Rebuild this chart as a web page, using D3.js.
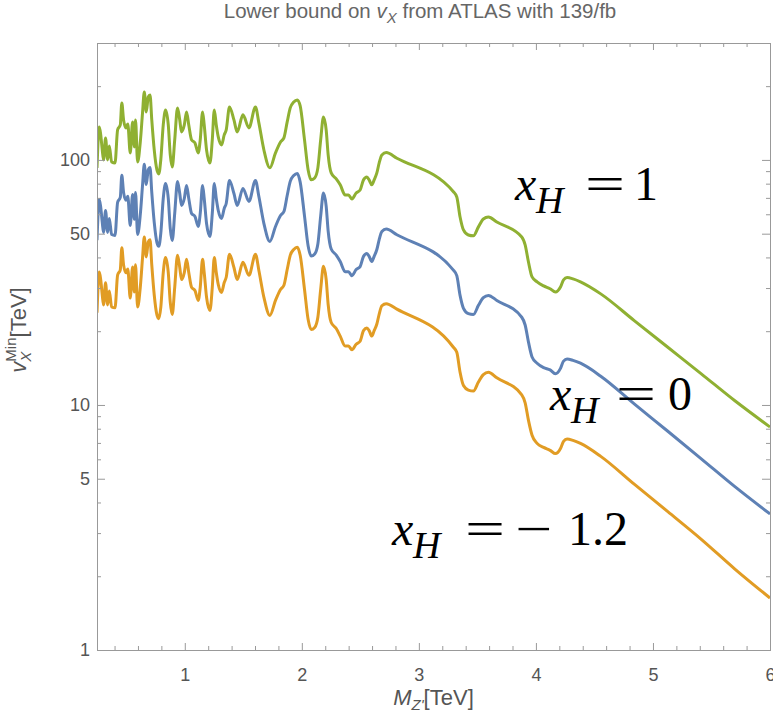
<!DOCTYPE html>
<html>
<head>
<meta charset="utf-8">
<script src="https://cdn.jsdelivr.net/npm/d3@7"></script>
<style>
  body { margin: 0; background: #fff; }
  svg { display: block; }
  text { font-family: "Liberation Sans", Arial, sans-serif; }
  .anno text { font-family: "Liberation Serif", "Times New Roman", serif; font-size: 48px; fill: #000; }
</style>
</head>
<body>
<div id="chart"></div>
<script>
// Z' mass in TeV (shared by all three curves)
var mass = [
  0.250, 0.270, 0.282, 0.295, 0.306, 0.323, 0.341, 0.355, 0.375, 0.404,
  0.426, 0.449, 0.462, 0.477, 0.498, 0.513, 0.534, 0.554, 0.569, 0.579,
  0.597, 0.620, 0.639, 0.654, 0.671, 0.688, 0.703, 0.718, 0.739, 0.762,
  0.778, 0.795, 0.816, 0.836, 0.859, 0.876, 0.893, 0.914, 0.938, 0.957,
  0.972, 0.996, 1.015, 1.034, 1.058, 1.087, 1.115, 1.132, 1.152, 1.166,
  1.186, 1.215, 1.235, 1.252, 1.269, 1.286, 1.314, 1.337, 1.354, 1.382,
  1.420, 1.448, 1.497, 1.548, 1.604, 1.633, 1.676, 1.727, 1.775, 1.818,
  1.847, 1.875, 1.901, 1.931, 1.961, 1.986, 2.023, 2.054, 2.080, 2.110,
  2.137, 2.161, 2.185, 2.208, 2.225, 2.251, 2.294, 2.328, 2.370, 2.399,
  2.428, 2.464, 2.498, 2.527, 2.556, 2.575, 2.598, 2.618, 2.641, 2.661,
  2.684, 2.721, 2.812, 3.295, 3.324, 3.352, 3.381, 3.423, 3.466, 3.509,
  3.551, 3.594, 3.666, 3.879, 3.908, 3.936, 3.967, 4.010, 4.066, 4.121,
  4.167, 4.210, 4.236, 4.266, 4.317, 4.381, 4.554, 4.840, 5.127, 5.413,
  5.700, 6.000
];

// lower bound on v_X (TeV), x_H = 1
var vxH1 = [
  92.8, 136.4, 126.5, 109.8, 100, 123.0, 100, 114.1, 98.1, 97.2,
  132.6, 138.9, 170.9, 145.6, 135.1, 140.3, 106.8, 142.9, 113.0, 145.6,
  98.1, 118.4, 155.5, 189.5, 157.0, 180.7, 184.2, 145.6, 109.8, 91.0,
  87.7, 100, 138.9, 160.0, 138.9, 104.8, 93.6, 120.7, 163.0, 145.6,
  130.1, 138.9, 157.0, 138.9, 120.7, 117.3, 106.8, 120.7, 157.0, 138.9,
  109.8, 97.2, 120.7, 160.0, 138.9, 124.1, 115.1, 126.5, 132.6, 164.6,
  145.6, 130.1, 152.7, 135.1, 164.6, 141.6, 109.8, 92.8, 106.8, 118.4,
  123.0, 142.9, 163.0, 172.5, 175.8, 166.1, 120.7, 91.0, 82.9, 84.4,
  92.8, 120.7, 149.8, 132.6, 104.8, 88.5, 83.6, 79.1, 71.9, 71.9,
  69.3, 73.3, 75.4, 82.9, 85.2, 82.9, 79.1, 82.9, 88.5, 97.2,
  104.8, 107.1, 101.6, 74.2, 70.6, 58.5, 51.8, 49.4, 49.0, 53.3,
  57.4, 58.5, 55.8, 48.5, 45.0, 38.4, 33.3, 31.8, 30.6, 29.8,
  28.9, 30.3, 32.4, 33.1, 32.7, 31.8, 28.4, 22.1, 17.2, 13.4,
  10.4, 8.13
];

// x_H = 0
var vxH0 = [
  47.0, 69.0, 64.0, 55.6, 50.6, 62.2, 50.6, 57.7, 49.6, 49.2,
  67.1, 70.3, 86.5, 73.7, 68.4, 71.0, 54.0, 72.3, 57.2, 73.7,
  49.6, 59.9, 78.7, 95.9, 79.4, 91.4, 93.2, 73.7, 55.6, 46.0,
  44.4, 50.1, 69.6, 80.2, 69.6, 52.5, 46.9, 60.5, 81.7, 72.9,
  65.2, 69.6, 78.7, 69.6, 60.5, 58.8, 53.5, 60.5, 78.7, 69.6,
  55.0, 48.7, 60.5, 80.2, 69.6, 62.2, 57.7, 63.4, 66.4, 82.5,
  72.9, 65.2, 76.5, 67.7, 82.5, 70.9, 55.0, 46.5, 53.5, 59.3,
  61.6, 71.6, 81.7, 86.4, 88.1, 81.2, 59.0, 44.5, 40.5, 41.3,
  45.4, 59.0, 73.3, 64.8, 51.2, 43.3, 40.9, 38.5, 35.0, 35.0,
  33.7, 35.7, 36.7, 40.4, 41.5, 40.4, 38.5, 40.4, 43.1, 47.3,
  51.0, 52.2, 49.5, 35.5, 33.7, 28.0, 24.8, 23.6, 23.4, 25.5,
  27.4, 28.0, 26.7, 22.8, 21.2, 18.1, 15.7, 14.8, 14.2, 13.9,
  13.4, 14.1, 15.1, 15.4, 15.2, 14.8, 13.1, 10.1, 7.81, 6.03,
  4.64, 3.59
];

// x_H = -1.2
var vxHm12 = [
  23.8, 34.9, 32.4, 28.1, 25.6, 31.5, 25.6, 29.2, 25.1, 24.9,
  33.9, 35.6, 43.8, 37.3, 34.6, 35.9, 27.3, 36.6, 28.9, 37.3,
  25.1, 30.3, 39.8, 48.5, 40.2, 46.3, 47.2, 37.3, 28.1, 23.3,
  22.5, 25.0, 34.7, 40.0, 34.7, 26.2, 23.4, 30.2, 40.8, 36.4,
  32.5, 34.7, 39.3, 34.7, 30.2, 29.3, 26.7, 30.2, 39.3, 34.7,
  27.5, 24.3, 30.2, 40.0, 34.7, 31.0, 28.8, 31.6, 33.2, 41.2,
  36.4, 32.5, 38.2, 33.8, 41.2, 35.4, 27.5, 23.2, 26.7, 29.6,
  30.8, 35.7, 40.8, 43.1, 44.0, 40.8, 29.6, 22.3, 20.3, 20.7,
  22.8, 29.6, 36.8, 32.5, 25.7, 21.7, 20.5, 19.1, 17.4, 17.4,
  16.8, 17.7, 18.2, 20.1, 20.6, 20.1, 19.1, 20.1, 21.4, 23.5,
  25.4, 25.9, 24.6, 17.2, 16.4, 13.6, 12.0, 11.5, 11.4, 12.4,
  13.3, 13.6, 12.9, 11.0, 10.2, 8.67, 7.52, 6.97, 6.71, 6.53,
  6.33, 6.64, 7.10, 7.26, 7.17, 6.97, 6.17, 4.75, 3.67, 2.83,
  2.14, 1.63
];

// ticks
var xMajor = [1, 2, 3, 4, 5, 6];
var xMinor = [0.4, 0.6, 0.8, 1.2, 1.4, 1.6, 1.8, 2.2, 2.4, 2.6, 2.8, 3.2, 3.4, 3.6, 3.8,
              4.2, 4.4, 4.6, 4.8, 5.2, 5.4, 5.6, 5.8];
var yMajor = [1, 5, 10, 50, 100];
var yMinor = [2, 3, 4, 6, 7, 8, 9, 20, 30, 40, 60, 70, 80, 90, 200, 300];

var margin = {top: 43, right: 3, bottom: 69, left: 97},
    width = 773 - margin.left - margin.right,
    height = 719 - margin.top - margin.bottom;

var svg = d3.select("#chart")
    .append("svg")
        .attr("width", width + margin.left + margin.right)
        .attr("height", height + margin.top + margin.bottom)
    .append("g")
        .attr("transform", "translate(" + margin.left + "," + margin.top + ")");

var x = d3.scaleLinear().domain([0.25, 6]).range([0, width]);
var y = d3.scaleLog().domain([1, 300]).range([height, 0]);

var series = [
    {key: "xH0", values: vxH0, color: "#5E81B5"},
    {key: "xHm12", values: vxHm12, color: "#E19C24"},
    {key: "xH1", values: vxH1, color: "#8FB032"}
];

svg.append("clipPath").attr("id", "clip")
  .append("rect").attr("width", width).attr("height", height);

var line = d3.line()
    .x(function(d, i) { return x(mass[i]); })
    .y(function(d) { return y(d); })
    .curve(d3.curveMonotoneX);

svg.append("g")
    .attr("clip-path", "url(#clip)")
    .selectAll("path")
    .data(series)
    .enter().append("path")
        .attr("d", function(s) { return line(s.values); })
        .attr("fill", "none")
        .attr("stroke", function(s) { return s.color; })
        .attr("stroke-width", 3)
        .attr("stroke-linejoin", "round");

// frame + ticks (Mathematica style, ticks pointing inward)
function styleAxis(g) {
    g.select(".domain").remove();
    g.selectAll(".tick line").attr("stroke", "#999");
    g.selectAll("text").attr("fill", "#555").style("font-size", "18px");
}

svg.append("g").attr("transform", "translate(0," + height + ")")
    .call(d3.axisBottom(x).tickValues(xMajor).tickSize(-7).tickPadding(18).tickFormat(d3.format("d")))
    .call(styleAxis);
svg.append("g").attr("transform", "translate(0," + height + ")")
    .call(d3.axisBottom(x).tickValues(xMinor).tickSize(-4).tickFormat(""))
    .call(styleAxis);
svg.append("g")
    .call(d3.axisTop(x).tickValues(xMajor).tickSize(-7).tickFormat(""))
    .call(styleAxis);
svg.append("g")
    .call(d3.axisTop(x).tickValues(xMinor).tickSize(-4).tickFormat(""))
    .call(styleAxis);

svg.append("g")
    .call(d3.axisLeft(y).tickValues(yMajor).tickSize(-8).tickPadding(7).tickFormat(d3.format("d")))
    .call(styleAxis);
svg.append("g")
    .call(d3.axisLeft(y).tickValues(yMinor).tickSize(-4).tickFormat(""))
    .call(styleAxis);
svg.append("g").attr("transform", "translate(" + width + ",0)")
    .call(d3.axisRight(y).tickValues(yMajor).tickSize(-8).tickFormat(""))
    .call(styleAxis);
svg.append("g").attr("transform", "translate(" + width + ",0)")
    .call(d3.axisRight(y).tickValues(yMinor).tickSize(-4).tickFormat(""))
    .call(styleAxis);

svg.append("rect")
    .attr("width", width).attr("height", height)
    .attr("fill", "none").attr("stroke", "#999")
    .attr("shape-rendering", "crispEdges");

// title
var title = svg.append("text")
    .attr("x", 323).attr("y", 18 - margin.top)
    .attr("text-anchor", "middle")
    .attr("fill", "#666")
    .style("font-size", "20.5px");
title.append("tspan").text("Lower bound on ");
title.append("tspan").style("font-style", "italic").text("v");
title.append("tspan").style("font-style", "italic").style("font-size", "15px").attr("dy", 5).text("X");
title.append("tspan").attr("dy", -5).text(" from ATLAS with 139/fb");

// x axis label
var xl = svg.append("text")
    .attr("x", width / 2).attr("y", 705 - margin.top)
    .attr("text-anchor", "middle")
    .attr("fill", "#555")
    .style("font-size", "22px");
xl.append("tspan").style("font-style", "italic").text("M");
xl.append("tspan").style("font-style", "italic").style("font-size", "15px").attr("dy", 5).text("Z'");
xl.append("tspan").attr("dy", -5).text("[TeV]");

// y axis label
var yl = svg.append("text")
    .attr("transform", "translate(" + (26 - margin.left) + "," + (330 - margin.top) + ") rotate(-90)")
    .attr("text-anchor", "middle")
    .attr("fill", "#555")
    .style("font-size", "22px");
yl.append("tspan").style("font-style", "italic").text("v");
yl.append("tspan").style("font-style", "italic").style("font-size", "15px").attr("dy", 5).text("X");
yl.append("tspan").style("font-size", "15px").attr("dx", -10).attr("dy", -15).text("Min");
yl.append("tspan").attr("dy", 10).text("[TeV]");

// curve labels: x_H = value, glyphs placed where the reference has them
function anno(x0, base, eqX, parts) {
    var g = svg.append("g").attr("class", "anno")
        .attr("transform", "translate(" + (-margin.left) + "," + (-margin.top) + ")");
    var t = g.append("text").attr("y", base);
    t.append("tspan").attr("x", x0).style("font-style", "italic").text("x");
    t.append("tspan").attr("x", x0 + 21).attr("dy", 13)
        .style("font-style", "italic").style("font-size", "38px").text("H");
    g.append("text").attr("x", eqX).attr("y", base)
        .attr("textLength", 40).attr("lengthAdjust", "spacingAndGlyphs").text("=");
    parts.forEach(function(p) {
        var e = g.append("text").attr("x", p.x).attr("y", base).text(p.s);
        if (p.w) e.attr("textLength", p.w).attr("lengthAdjust", "spacingAndGlyphs");
    });
}
anno(515, 200, 585, [{s: "1", x: 634}]);
anno(550, 410, 616, [{s: "0", x: 668}]);
anno(392, 545, 465, [{s: "\u2212", x: 515, w: 37}, {s: "1.2", x: 568}]);
</script>
</body>
</html>
